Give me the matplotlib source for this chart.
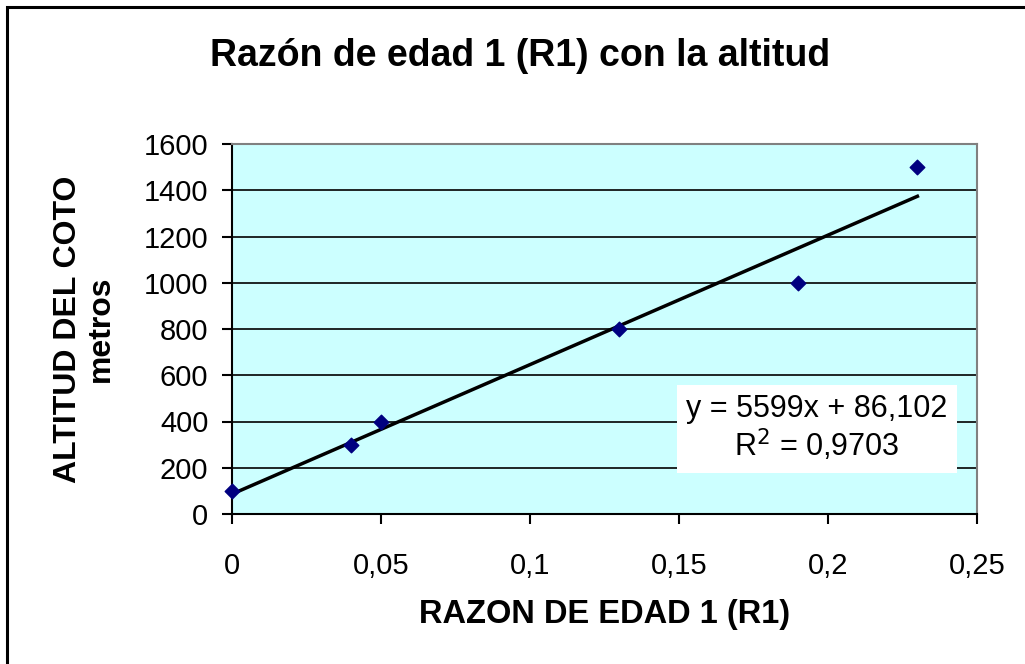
import numpy as np
import matplotlib
matplotlib.use("Agg")
import matplotlib.pyplot as plt
from matplotlib.patches import Rectangle

plt.rcParams['font.family'] = ['Liberation Sans', 'DejaVu Sans']

# data
razon = [0.0, 0.04, 0.05, 0.13, 0.19, 0.23]
altitud = [100, 300, 400, 800, 1000, 1500]
x_ticks = [0, 0.05, 0.1, 0.15, 0.2, 0.25]
x_labels = ["0", "0,05", "0,1", "0,15", "0,2", "0,25"]
y_ticks = list(range(0, 1601, 200))

x = np.array(razon)
y = np.array(altitud)
slope, intercept = np.polyfit(x, y, 1)
r2 = np.corrcoef(x, y)[0, 1] ** 2

fig = plt.figure(figsize=(10.25, 6.64), dpi=100)
# outer chart border (right and bottom edges fall outside the image)
fig.patches.append(Rectangle((7 / 1025, -0.02), 1.1, 1 - 7 / 664 + 0.02,
                             transform=fig.transFigure,
                             fill=False, edgecolor='black', linewidth=2.2))

ax = fig.add_axes([232 / 1025, 1 - 514 / 664, (977 - 232) / 1025, (514 - 144) / 664])
ax.set_facecolor('#ccffff')

ax.set_xlim(0, 0.25)
ax.set_ylim(0, 1600)
ax.set_xticks(x_ticks)
ax.set_xticklabels(x_labels)
ax.set_yticks(y_ticks)
ax.yaxis.grid(True, color='black', linewidth=1.2)
ax.set_axisbelow(True)

for side in ['top', 'right']:
    ax.spines[side].set_color('#808080')
    ax.spines[side].set_linewidth(1.5)
for side in ['left', 'bottom']:
    ax.spines[side].set_linewidth(1.5)

ax.tick_params(direction='out', length=7, width=1.5, labelsize=21)
ax.tick_params(axis='x', pad=20)
ax.tick_params(axis='y', pad=10)

xs = np.array([0, max(razon)])
ax.plot(xs, slope * xs + intercept, color='black', linewidth=2.5, zorder=3)
ax.scatter(x, y, marker='D', s=55, color='#000080', zorder=4, clip_on=False)

eq = f"y = {slope:.0f}x + {intercept:.3f}".replace('.', ',')
r2_txt = f"R$^2$ = {r2:.4f}".replace('.', ',')
ax.text(0.1963, 367, eq + "\n" + r2_txt, fontsize=22, ha='center', va='center',
        linespacing=1.1, zorder=5,
        bbox=dict(boxstyle='square,pad=0.3', facecolor='white', edgecolor='none'))

ax.set_xlabel("RAZON DE EDAD 1 (R1)", fontsize=23.5, fontweight='bold', labelpad=14)
ax.set_ylabel("ALTITUD DEL COTO\nmetros", fontsize=23, fontweight='bold', labelpad=20,
              linespacing=1.15)

fig.text(520 / 1025, 1 - 56 / 664, "Razón de edad 1 (R1) con la altitud",
         fontsize=27, fontweight='bold', ha='center', va='center')

fig.savefig("out.png", dpi=100)
